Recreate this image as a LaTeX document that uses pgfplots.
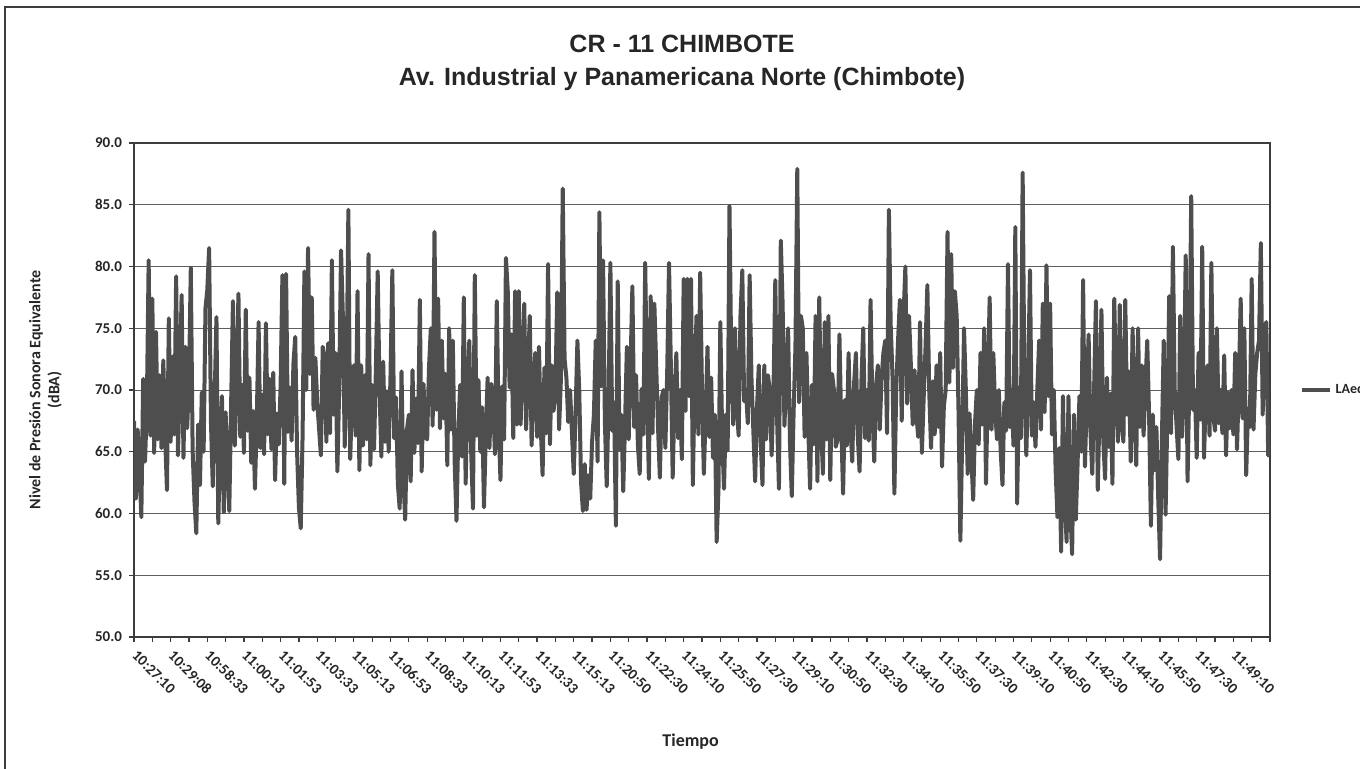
\documentclass[border=0pt]{standalone}
\usepackage{pgfplots}
\usepackage{pgfplotstable}
\pgfplotsset{compat=1.18}
\usepackage{fontspec}
\setmainfont{Carlito}
\newfontfamily\titlefont{Liberation Sans}
\definecolor{trace}{RGB}{78,78,78}
\definecolor{frame}{RGB}{60,60,60}
\definecolor{gridc}{RGB}{95,95,95}

% LAeq, one reading every 5 s
\pgfplotstableread[row sep=\\]{
y\\
67.5\\61.2\\66.8\\63.5\\59.7\\70.9\\64.2\\68.5\\80.5\\66.3\\
77.4\\64.9\\74.7\\66.0\\71.2\\65.3\\72.4\\66.1\\61.9\\75.8\\
65.8\\72.7\\66.4\\79.2\\64.7\\70.8\\77.7\\64.5\\73.5\\66.9\\
70.5\\79.9\\65.1\\61.0\\58.4\\67.2\\62.3\\69.8\\65.0\\76.6\\
78.1\\81.5\\67.4\\62.2\\69.3\\75.9\\59.2\\66.0\\69.5\\60.1\\
68.2\\64.0\\60.2\\68.8\\77.2\\65.5\\70.1\\77.8\\66.2\\70.4\\
64.9\\76.5\\66.7\\71.0\\64.1\\68.3\\62.0\\67.5\\75.5\\65.3\\
69.6\\64.8\\75.4\\66.4\\70.9\\65.2\\71.4\\62.7\\68.1\\65.6\\
70.3\\79.3\\62.4\\79.4\\66.6\\70.2\\65.9\\72.1\\74.3\\65.0\\
60.5\\58.8\\66.2\\79.6\\70.0\\81.5\\71.3\\77.5\\68.4\\72.6\\
69.0\\66.9\\64.7\\73.5\\72.7\\65.8\\73.8\\66.5\\80.5\\68.0\\
73.0\\63.4\\70.2\\81.3\\76.0\\65.4\\70.6\\84.6\\64.4\\69.5\\
72.0\\66.3\\78.0\\63.5\\72.0\\65.5\\71.2\\66.0\\81.0\\63.9\\
70.4\\65.2\\71.6\\79.6\\70.0\\64.6\\72.3\\65.8\\69.9\\65.0\\
71.2\\79.7\\66.1\\69.4\\62.4\\60.4\\71.5\\63.0\\59.5\\66.8\\
68.0\\62.6\\71.6\\64.9\\69.3\\65.7\\77.3\\63.4\\70.5\\66.2\\
66.0\\71.8\\75.0\\67.1\\82.8\\68.4\\77.4\\66.9\\74.0\\67.7\\
71.3\\63.9\\75.0\\66.8\\74.0\\64.2\\59.4\\66.5\\70.4\\64.6\\
77.5\\62.4\\69.7\\74.0\\65.1\\60.4\\79.3\\66.3\\70.8\\65.0\\
68.6\\60.5\\66.4\\71.0\\65.3\\70.5\\69.0\\64.8\\77.2\\67.4\\
62.7\\70.3\\66.0\\80.7\\78.0\\70.2\\74.5\\66.1\\78.0\\67.2\\
78.0\\67.2\\72.4\\77.0\\66.8\\71.5\\76.0\\65.5\\70.6\\73.0\\
66.2\\73.5\\67.0\\63.1\\71.8\\66.5\\80.2\\65.6\\72.0\\68.3\\
70.0\\77.9\\66.8\\70.9\\86.3\\72.5\\71.0\\67.4\\70.0\\66.6\\
63.2\\68.1\\74.0\\70.0\\62.5\\60.2\\64.0\\60.3\\63.1\\61.2\\
65.8\\68.0\\74.0\\64.2\\84.4\\70.3\\80.5\\67.4\\62.2\\69.0\\
80.3\\66.7\\69.0\\59.0\\78.8\\65.2\\68.0\\61.8\\67.3\\73.5\\
66.0\\71.9\\78.4\\67.0\\71.2\\65.6\\63.2\\70.1\\66.4\\80.3\\
70.0\\62.8\\77.6\\66.5\\77.0\\72.0\\67.0\\62.9\\69.4\\70.0\\
65.3\\71.4\\80.3\\72.0\\62.9\\69.2\\73.0\\66.1\\70.0\\64.4\\
79.0\\68.3\\79.0\\69.5\\79.0\\62.3\\70.8\\76.0\\66.4\\79.5\\
70.0\\63.2\\68.0\\73.5\\66.2\\71.0\\64.5\\68.0\\57.7\\62.0\\
75.5\\66.4\\62.0\\68.0\\65.1\\84.9\\72.0\\67.2\\75.0\\68.6\\
66.3\\76.0\\79.7\\69.1\\70.0\\67.3\\79.3\\71.0\\66.8\\62.6\\
68.5\\72.0\\66.0\\62.3\\72.0\\66.0\\71.2\\70.0\\64.7\\69.8\\
78.9\\67.5\\62.0\\82.1\\77.0\\67.1\\71.5\\75.0\\65.8\\61.4\\
68.2\\73.5\\87.9\\69.0\\76.0\\75.0\\66.2\\73.0\\66.9\\62.0\\
70.4\\65.6\\76.0\\62.6\\77.5\\67.2\\63.2\\75.5\\66.0\\76.0\\
62.7\\71.3\\70.0\\65.4\\66.0\\74.5\\67.1\\61.6\\69.2\\65.5\\
73.0\\67.0\\64.2\\70.5\\73.0\\66.3\\63.4\\70.7\\75.0\\66.1\\
70.0\\65.9\\77.3\\68.5\\64.2\\70.4\\72.0\\66.8\\70.9\\73.0\\
74.0\\66.5\\84.6\\75.2\\71.0\\61.6\\70.0\\74.0\\77.3\\67.5\\
76.0\\80.0\\68.9\\76.0\\72.0\\67.2\\71.6\\68.0\\66.2\\75.5\\
64.9\\69.4\\73.5\\78.5\\70.0\\65.3\\70.7\\66.4\\72.0\\67.0\\
73.0\\63.8\\68.7\\70.0\\82.8\\70.6\\81.0\\71.8\\78.0\\76.0\\
68.3\\57.8\\66.0\\75.0\\70.0\\63.2\\68.1\\64.6\\61.1\\67.3\\
70.0\\65.6\\73.0\\67.2\\75.0\\62.4\\70.3\\77.5\\66.8\\73.0\\
68.4\\66.0\\70.0\\65.1\\62.3\\69.0\\66.7\\80.2\\67.0\\70.0\\
65.5\\83.2\\60.8\\70.2\\66.1\\87.6\\69.8\\64.7\\70.9\\79.7\\
66.3\\69.0\\65.4\\70.0\\74.0\\66.8\\77.0\\68.2\\80.1\\69.5\\
77.0\\66.4\\70.0\\63.5\\59.7\\65.3\\56.9\\69.5\\61.0\\57.7\\
69.5\\60.4\\56.7\\68.0\\59.5\\64.1\\69.5\\65.0\\78.9\\63.8\\
69.3\\74.5\\66.7\\63.2\\70.1\\77.2\\61.9\\68.6\\76.5\\66.0\\
62.8\\71.0\\65.4\\69.7\\62.4\\77.4\\70.0\\65.8\\76.9\\67.4\\
65.8\\77.3\\68.0\\71.5\\64.2\\75.0\\68.6\\63.9\\75.0\\67.0\\
72.0\\66.3\\70.4\\74.0\\68.0\\59.0\\68.0\\63.5\\67.0\\61.2\\
56.3\\66.0\\74.0\\59.9\\68.2\\77.6\\66.5\\81.6\\70.0\\67.1\\
64.4\\76.0\\66.2\\70.0\\80.9\\62.6\\70.8\\85.7\\68.4\\70.0\\
64.5\\73.0\\67.6\\81.6\\64.5\\69.9\\72.0\\66.3\\80.3\\68.0\\
66.7\\75.0\\67.3\\70.0\\66.5\\72.8\\64.7\\69.8\\66.9\\70.0\\
66.4\\73.0\\65.2\\70.6\\77.4\\67.7\\75.0\\63.1\\68.5\\67.0\\
79.0\\66.8\\71.3\\73.0\\74.0\\81.9\\68.0\\75.0\\75.5\\64.7\\67.0\\
}\laeq

\begin{document}
\begin{tikzpicture}
% chart area frame (scanned page, cut at right and bottom)
\draw[frame,line width=1pt] (2.5pt,-384.5pt) -- (2.5pt,-3.5pt) -- (690pt,-3.5pt);

\node[font=\titlefont\bfseries\fontsize{12.5}{14}\selectfont,text=black!85] at (341pt,-22pt) {CR - 11 CHIMBOTE};
\node[font=\titlefont\bfseries\fontsize{12.5}{14}\selectfont,text=black!85] at (341pt,-39.5pt) {Av. Industrial y Panamericana Norte (Chimbote)};

\begin{axis}[
  at={(67pt,-318.5pt)}, anchor=south west,
  scale only axis, width=568pt, height=247pt,
  xmin=0, xmax=620, ymin=50, ymax=90,
  axis line style={frame,line width=0.8pt},
  ytick={50,55,...,90},
  yticklabel style={font=\bfseries\fontsize{7.5}{9}\selectfont,text=black!85,
    /pgf/number format/fixed,/pgf/number format/fixed zerofill,
    /pgf/number format/precision=1,/pgf/number format/assume math mode=true},
  xtick={0,20,...,600},
  minor xtick={10,30,...,610,620},
  xticklabels={10:27:10,10:29:08,10:58:33,11:00:13,11:01:53,11:03:33,11:05:13,11:06:53,
    11:08:33,11:10:13,11:11:53,11:13:33,11:15:13,11:20:50,11:22:30,11:24:10,11:25:50,
    11:27:30,11:29:10,11:30:50,11:32:30,11:34:10,11:35:50,11:37:30,11:39:10,11:40:50,
    11:42:30,11:44:10,11:45:50,11:47:30,11:49:10},
  xticklabel style={font=\bfseries\fontsize{7.5}{9}\selectfont,text=black!85,
    rotate=-45,anchor=north west,inner sep=1pt,xshift=3pt},
  tick align=outside, tick pos=left,
  major tick length=2.5pt, minor tick length=2.5pt,
  tick style={frame,line width=0.6pt},
  ymajorgrids, grid style={gridc,line width=0.5pt},
  ylabel={Nivel de Presión Sonora Equivalente\\(dBA)},
  ylabel style={font=\bfseries\fontsize{8}{9.5}\selectfont,text=black!85,align=center,
    at={(rel axis cs:-0.078,0.5)},anchor=center,rotate=0},
  xlabel={Tiempo},
  xlabel style={font=\bfseries\fontsize{9}{10}\selectfont,text=black!85,
    at={(rel axis cs:0.49,0)},anchor=center,yshift=-52.5pt},
  legend style={at={(rel axis cs:1,0.5)},anchor=west,xshift=14pt,draw=none,fill=none,
    font=\bfseries\fontsize{7}{8}\selectfont,text=black!85,inner sep=1pt},
  legend image code/.code={\draw[#1,line width=1.6pt] (0pt,0pt) -- (14pt,0pt);},
]
\addplot[trace,line width=2pt,line join=round,mark=none] table[x expr=\coordindex,y=y] {\laeq};
\addlegendentry{LAeq}
\end{axis}
\pgfresetboundingbox
\useasboundingbox (0,0) rectangle (680pt,-384.5pt);
\end{tikzpicture}
\end{document}
